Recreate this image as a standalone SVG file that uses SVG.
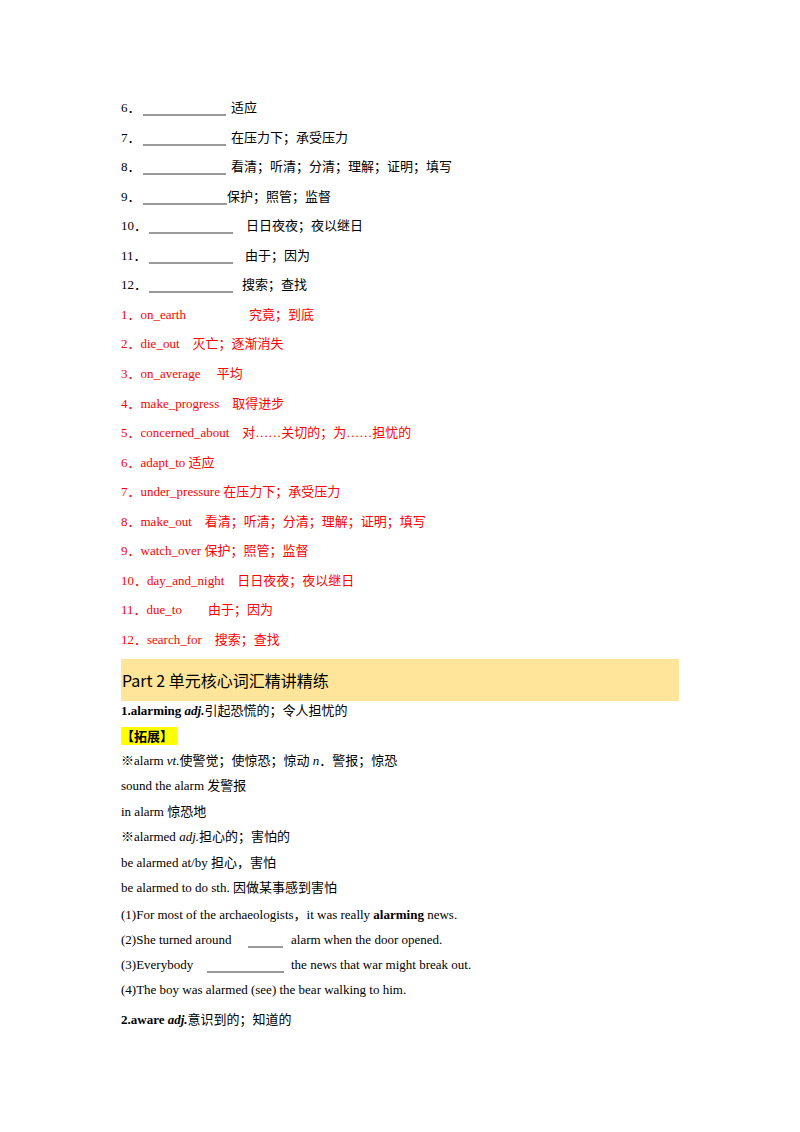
<svg xmlns="http://www.w3.org/2000/svg" width="800" height="1132" viewBox="0 0 800 1132">
<style>
text{font-family:"Liberation Serif","Noto Sans CJK SC",serif;font-size:13px;fill:#000}
.r{fill:#f00}
.u{stroke:#000;stroke-width:0.8}
.b{font-weight:bold}
.i{font-style:italic}
.h{font-family:"Noto Sans CJK SC","Noto Sans",sans-serif;font-size:16px}
</style>
<rect width="800" height="1132" fill="#fff"/>
<g id="blanks">
<text x="121" y="112">6．</text><line class="u" x1="143" y1="115" x2="226" y2="115"/><text x="231" y="112">适应</text>
<text x="121" y="142">7．</text><line class="u" x1="143" y1="145" x2="226" y2="145"/><text x="231" y="142">在压力下；承受压力</text>
<text x="121" y="171">8．</text><line class="u" x1="143" y1="174" x2="226" y2="174"/><text x="231" y="171">看清；听清；分清；理解；证明；填写</text>
<text x="121" y="201">9．</text><line class="u" x1="143" y1="204" x2="227" y2="204"/><text x="227" y="201">保护；照管；监督</text>
<text x="121" y="230">10．</text><line class="u" x1="149" y1="233" x2="233" y2="233"/><text x="246" y="230">日日夜夜；夜以继日</text>
<text x="121" y="260">11．</text><line class="u" x1="149" y1="263" x2="233" y2="263"/><text x="245" y="260">由于；因为</text>
<text x="121" y="289">12．</text><line class="u" x1="149" y1="292" x2="233" y2="292"/><text x="242" y="289">搜索；查找</text>
</g>
<g id="answers">
<text class="r" x="121" y="319">1．on_earth<tspan x="249">究竟；到底</tspan></text>
<text class="r" x="121" y="348">2．die_out　灭亡；逐渐消失</text>
<text class="r" x="121" y="378">3．on_average　 平均</text>
<text class="r" x="121" y="408">4．make_progress　取得进步</text>
<text class="r" x="121" y="437">5．concerned_about　对……关切的；为……担忧的</text>
<text class="r" x="121" y="467">6．adapt_to 适应</text>
<text class="r" x="121" y="496">7．under_pressure 在压力下；承受压力</text>
<text class="r" x="121" y="526">8．make_out　看清；听清；分清；理解；证明；填写</text>
<text class="r" x="121" y="555">9．watch_over 保护；照管；监督</text>
<text class="r" x="121" y="585">10．day_and_night　日日夜夜；夜以继日</text>
<text class="r" x="121" y="614">11．due_to　　由于；因为</text>
<text class="r" x="121" y="644">12．search_for　搜索；查找</text>
</g>
<g id="part2">
<rect x="121" y="659" width="558" height="42" fill="#fee599"/>
<text class="h" x="122" y="687">Part  2 单元核心词汇精讲精练</text>
</g>
<g id="body">
<text x="121" y="715"><tspan class="b">1.alarming  </tspan><tspan class="b i">adj.</tspan>引起恐慌的；令人担忧的</text>
<rect x="121" y="727" width="57" height="18" fill="#ffff00"/>
<text x="121" y="741" class="b">【拓展】</text>
<text x="121" y="765">※alarm  <tspan class="i">vt.</tspan>使警觉；使惊恐；惊动  <tspan class="i">n</tspan>．警报；惊恐</text>
<text x="121" y="790">sound the alarm 发警报</text>
<text x="121" y="816">in alarm 惊恐地</text>
<text x="121" y="841">※alarmed  <tspan class="i">adj.</tspan>担心的；害怕的</text>
<text x="121" y="867">be alarmed at/by 担心，害怕</text>
<text x="121" y="892">be alarmed to do sth. 因做某事感到害怕</text>
<text x="121" y="919">(1)For most of the archaeologists，it was really  <tspan class="b">alarming</tspan>  news.</text>
<text x="121" y="944">(2)She turned around</text><line class="u" x1="248" y1="947" x2="283" y2="947"/><text x="291" y="944">alarm when the door opened.</text>
<text x="121" y="969">(3)Everybody</text><line class="u" x1="207" y1="972" x2="284" y2="972"/><text x="291" y="969">the news that war might break out.</text>
<text x="121" y="994">(4)The boy was alarmed (see) the bear walking to him.</text>
<text x="121" y="1024"><tspan class="b">2.aware  </tspan><tspan class="b i">adj.</tspan>意识到的；知道的</text>
</g>
</svg>
